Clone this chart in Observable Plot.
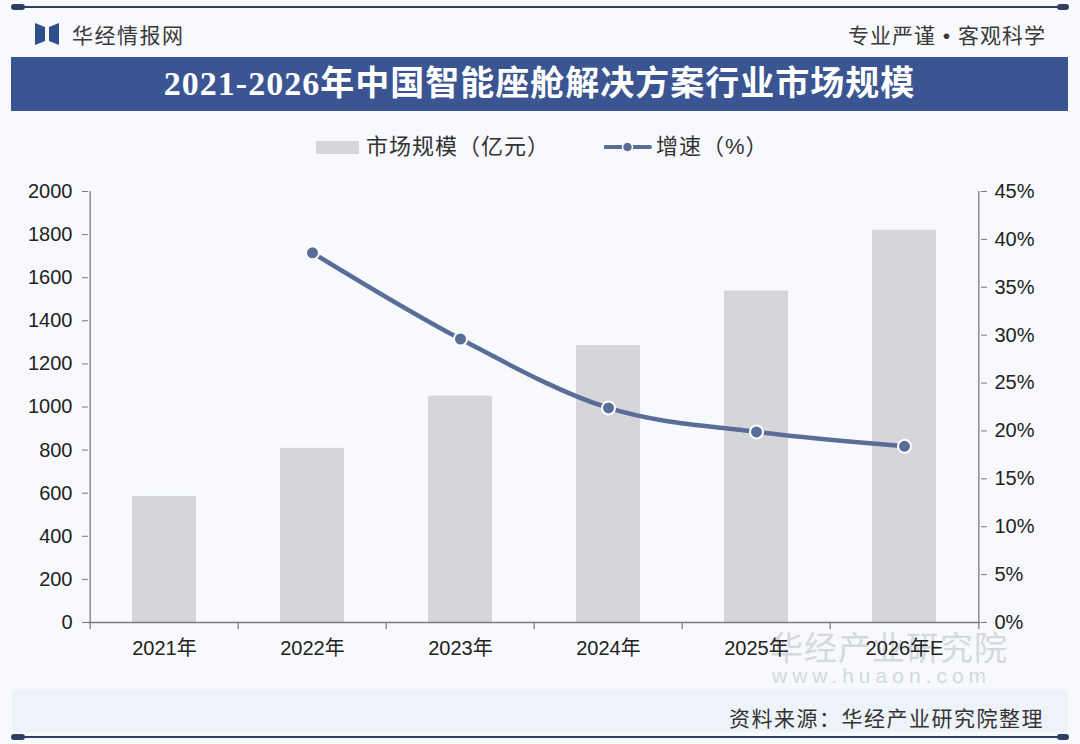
<!DOCTYPE html>
<html>
<head>
<meta charset="utf-8">
<script src="https://cdn.jsdelivr.net/npm/d3@7"></script>
<script src="https://cdn.jsdelivr.net/npm/@observablehq/plot@0.6"></script>
<style>
  html, body { margin: 0; padding: 0; background: #f6f8fc; }
  #wrap { position: relative; width: 1080px; height: 744px; overflow: hidden; background: #f7f9fc;
    font-family: "Liberation Sans", "Noto Sans CJK SC", sans-serif; }
  .abs { position: absolute; }
  #topline { left: 12px; top: 6px; width: 1056px; height: 2px; background: #2f3e63; }
  #topcapL { left: 11px; top: 4px; width: 14px; height: 6px; border-radius: 3px; background: #2f3e63; }
  #topcapR { left: 1057px; top: 4px; width: 12px; height: 6px; border-radius: 3px; background: #2f3e63; }
  #botline { left: 12px; top: 736px; width: 1056px; height: 2px; background: #2f3e63; }
  #botcapL { left: 11px; top: 734px; width: 14px; height: 6px; border-radius: 3px; background: #2f3e63; }
  #botcapR { left: 1057px; top: 734px; width: 12px; height: 6px; border-radius: 3px; background: #2f3e63; }
  #brand { left: 72px; top: 19px; font-size: 21px; letter-spacing: 1.5px; color: #3a3a3a; }
  #slogan { right: 34px; top: 19px; font-size: 21px; letter-spacing: 1px; color: #3a3a3a; }
  #band { left: 11px; top: 57px; width: 1057px; height: 54px; background: #3a5592; }
  #title { left: 11px; top: 57px; width: 1057px; height: 54px; line-height: 54px; text-align: center;
    color: #ffffff; font-size: 34px; font-weight: bold; letter-spacing: 1px;
    font-family: "Liberation Serif", "Noto Sans CJK SC", serif; }
  #legend { left: 0; top: 133px; width: 1080px; height: 28px; }
  .lg { position: absolute; top: 0; font-size: 22px; color: #333; line-height: 28px; letter-spacing: 1px; }
  #footband { left: 12px; top: 690px; width: 1056px; height: 42px; background: #eef3fa; }
  #source { right: 36px; top: 702px; font-size: 21px; letter-spacing: 1.5px; color: #333; }
  #wm1 { left: 770px; top: 622px; font-size: 33px; color: #d5d8de; letter-spacing: 1px; }
  #wm2 { left: 772px; top: 664px; font-size: 21px; color: #d5d8de; letter-spacing: 5px; }
  #chart { left: 0; top: 170px; }
</style>
</head>
<body>
<div id="wrap">
  <div class="abs" id="topline"></div><div class="abs" id="topcapL"></div><div class="abs" id="topcapR"></div>
  <svg class="abs" style="left:35px;top:23px" width="24" height="22" viewBox="0 0 24 22">
    <path d="M0 0 L10 4 L10 18 L0 22 Z" fill="#2f4f8c"/>
    <path d="M24 0 L14 4 L14 18 L24 22 Z" fill="#2f4f8c"/>
  </svg>
  <div class="abs" id="brand">华经情报网</div>
  <div class="abs" id="slogan">专业严谨 • 客观科学</div>
  <div class="abs" id="band"></div>
  <div class="abs" id="title">2021-2026年中国智能座舱解决方案行业市场规模</div>
  <div class="abs" id="legend">
    <svg class="abs" style="left:316px;top:8px" width="44" height="13"><rect x="0" y="0" width="43" height="13" fill="#d5d6d9"/></svg>
    <div class="lg" style="left:366px">市场规模（亿元）</div>
    <svg class="abs" style="left:604px;top:6px" width="48" height="16">
      <line x1="1" y1="8" x2="46" y2="8" stroke="#5a6d99" stroke-width="4" stroke-linecap="round"/>
      <circle cx="23.5" cy="8" r="5" fill="#5a6d99" stroke="#ffffff" stroke-width="1.5"/>
    </svg>
    <div class="lg" style="left:656px">增速（%）</div>
  </div>
  <div class="abs" id="footband"></div>
  <div class="abs" id="wm1">华经产业研究院</div>
  <div class="abs" id="wm2">www.huaon.com</div>
  <div class="abs" id="source">资料来源：华经产业研究院整理</div>
  <div class="abs" id="botline"></div><div class="abs" id="botcapL"></div><div class="abs" id="botcapR"></div>
  <div class="abs" id="chart"></div>
</div>
<script>
const years = ["2021年", "2022年", "2023年", "2024年", "2025年", "2026年E"];
const marketSize = [585, 808, 1050, 1285, 1538, 1820];
const growthYears = ["2022年", "2023年", "2024年", "2025年", "2026年E"];
const growthRate = [38.6, 29.6, 22.4, 19.9, 18.4];
const leftTicks = [0, 200, 400, 600, 800, 1000, 1200, 1400, 1600, 1800, 2000];
const rightTicks = [0, 5, 10, 15, 20, 25, 30, 35, 40, 45];

const leftMax = 2000, rightMax = 45;
const toLeft = g => g * leftMax / rightMax;

const bars = years.map((y, i) => ({year: y, value: marketSize[i]}));
const growth = growthYears.map((y, i) => ({year: y, g: growthRate[i], gy: toLeft(growthRate[i])}));

const W = 1080, H = 510;
const mL = 88, mR = 100;
const step = (W - mL - mR) / years.length;
const half = step / 2;

const axisColor = "#7a7a7a";
const textColor = "#222";

const chart = Plot.plot({
  width: W,
  height: H,
  marginLeft: mL,
  marginRight: mR,
  marginTop: 21,
  marginBottom: 58,
  style: {background: "transparent", fontFamily: "Liberation Sans, Noto Sans CJK SC, sans-serif", fontSize: "20px", color: textColor, overflow: "visible"},
  x: {domain: years, paddingInner: 0.57, paddingOuter: 0.285, align: 0.5, label: null},
  y: {domain: [0, leftMax], label: null},
  marks: [
    Plot.barY(bars, {x: "year", y: "value", fill: "#d5d6d9"}),
    Plot.ruleX([years[0]], {dx: -half, y1: 0, y2: leftMax, stroke: axisColor, strokeWidth: 1.3}),
    Plot.ruleX([years[years.length - 1]], {dx: half, y1: 0, y2: leftMax, stroke: axisColor, strokeWidth: 1.3}),
    Plot.ruleY([0], {stroke: axisColor, strokeWidth: 1.5}),
    Plot.ruleX(years, {dx: -half, y1: 0, y2: -32, stroke: axisColor, strokeWidth: 1.2}),
    Plot.ruleX([years[years.length - 1]], {dx: half, y1: 0, y2: -32, stroke: axisColor, strokeWidth: 1.2}),
    Plot.axisX({tickSize: 0, tickPadding: 18, fontSize: 20, fill: textColor}),
    Plot.axisY(leftTicks, {anchor: "left", tickSize: 6, tickPadding: 10, stroke: axisColor, fontSize: 20, fill: textColor, label: null,
      tickFormat: d => String(d)}),
    Plot.axisY(rightTicks.map(toLeft), {anchor: "right", tickSize: 6, tickPadding: 8, stroke: axisColor, fontSize: 20, fill: textColor, label: null,
      tickFormat: d => Math.round(d * rightMax / leftMax) + "%"}),
    Plot.line(growth, {x: "year", y: "gy", curve: "monotone-x", stroke: "#5a6d99", strokeWidth: 4.5, strokeLinecap: "round"}),
    Plot.dot(growth, {x: "year", y: "gy", r: 6.5, fill: "#5a6d99", stroke: "#ffffff", strokeWidth: 2})
  ]
});
document.getElementById("chart").appendChild(chart);
</script>
</body>
</html>
